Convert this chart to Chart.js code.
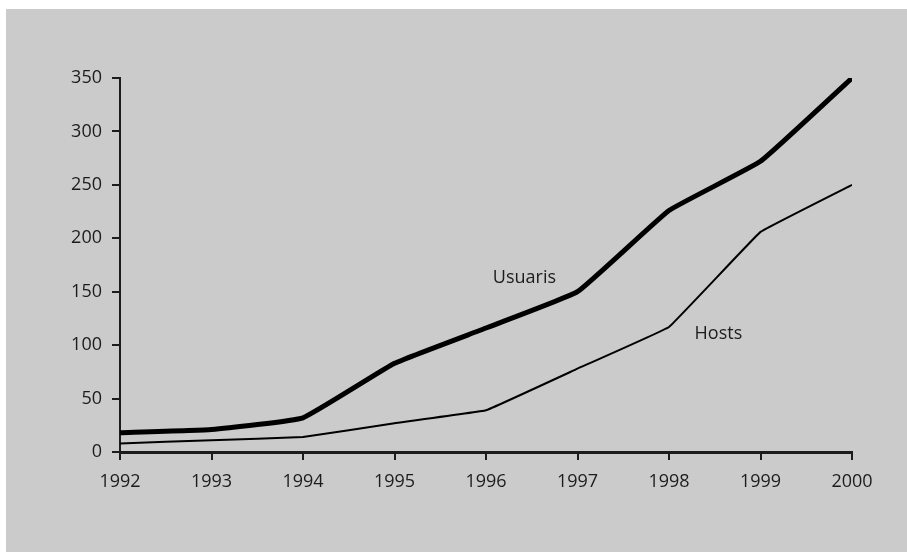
<!DOCTYPE html>
<html>
<head>
<meta charset="utf-8">
<script src="https://cdn.jsdelivr.net/npm/chart.js@4"></script>
<style>
  html, body { margin: 0; padding: 0; background: #fff; }
  #bg { position: absolute; left: 6px; top: 9px; width: 901px; height: 543px; background: #cbcbcb; }
  #wrap { position: absolute; left: 0; top: 0; width: 907px; height: 552px; }
</style>
</head>
<body>
<div id="bg"></div>
<div id="wrap"><canvas id="lineChart" width="907" height="552"></canvas></div>
<script>
const years = [1992, 1993, 1994, 1995, 1996, 1997, 1998, 1999, 2000];
const usuaris = [18, 21, 32, 83, 116, 150, 226, 272, 350];
const hosts = [8, 11, 14, 27, 39, 78, 117, 206, 250];
const yTicks = [0, 50, 100, 150, 200, 250, 300, 350];

// series names written next to the lines, placed in data units
const lineLabels = [
    { text: 'Usuaris', x: 1996.42, y: 163 },
    { text: 'Hosts', x: 1998.54, y: 111 }
];

const inkColor = '#1c1c1c';
const fontFamily = '"Open Sans", sans-serif';

const labelPlugin = {
    id: 'lineLabels',
    afterDatasetsDraw(chart) {
        const ctx = chart.ctx;
        const xs = chart.scales.x, ys = chart.scales.y;
        ctx.save();
        ctx.fillStyle = inkColor;
        ctx.font = '18px ' + fontFamily;
        ctx.textAlign = 'center';
        ctx.textBaseline = 'middle';
        lineLabels.forEach(l => {
            ctx.fillText(l.text, xs.getPixelForValue(l.x), ys.getPixelForValue(l.y));
        });
        ctx.restore();
    }
};

var ctx = document.getElementById('lineChart');
var myChart = new Chart(ctx, {
    type: 'line',
    data: {
        datasets: [{
            label: 'Usuaris',
            data: years.map((y, i) => ({ x: y, y: usuaris[i] })),
            borderColor: '#000',
            borderWidth: 5,
            pointRadius: 0,
            tension: 0.1
        }, {
            label: 'Hosts',
            data: years.map((y, i) => ({ x: y, y: hosts[i] })),
            borderColor: '#000',
            borderWidth: 2,
            pointRadius: 0,
            tension: 0.05
        }]
    },
    options: {
        responsive: false,
        animation: false,
        layout: { padding: { left: 0, top: 78, right: 55, bottom: 0 } },
        plugins: { legend: { display: false }, tooltip: { enabled: false } },
        scales: {
            x: {
                type: 'linear',
                min: 1992,
                max: 2000,
                afterFit(scale) { scale.height = 100; },
                afterBuildTicks(scale) { scale.ticks = years.map(v => ({ value: v })); },
                ticks: {
                    color: inkColor,
                    font: { family: fontFamily, size: 18 },
                    padding: 11,
                    callback: v => String(v)
                },
                grid: { drawOnChartArea: false, drawTicks: true, tickLength: 8, color: inkColor, lineWidth: 2 },
                border: { display: true, color: inkColor, width: 3 }
            },
            y: {
                min: 0,
                max: 350,
                afterFit(scale) { scale.width = 120; },
                afterBuildTicks(scale) { scale.ticks = yTicks.map(v => ({ value: v })); },
                ticks: {
                    color: inkColor,
                    font: { family: fontFamily, size: 18 },
                    padding: 10
                },
                grid: { drawOnChartArea: false, drawTicks: true, tickLength: 8, color: inkColor, lineWidth: 2 },
                border: { display: true, color: inkColor, width: 2 }
            }
        }
    },
    plugins: [labelPlugin]
});
</script>
</body>
</html>
